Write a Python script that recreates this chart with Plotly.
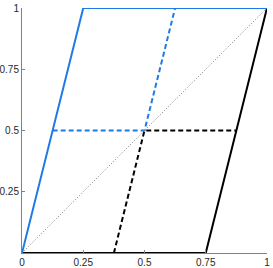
import plotly.graph_objects as go

# Series (x, y) values
blue_solid_x = [0, 0.25, 1]
blue_solid_y = [0, 1, 1]
blue_dash_x = [0.125, 0.5, 0.625]
blue_dash_y = [0.5, 0.5, 1]
black_dash_x = [0.375, 0.5, 0.875]
black_dash_y = [0, 0.5, 0.5]
black_solid_x = [0, 0.75, 1]
black_solid_y = [0, 0, 1]
diag_x = [0, 1]
diag_y = [0, 1]

x_ticks = [0, 0.25, 0.5, 0.75, 1]
x_labels = ["0", "0.25", "0.5", "0.75", "1"]
y_ticks = [0.25, 0.5, 0.75, 1]
y_labels = ["0.25", "0.5", "0.75", "1"]

BLUE = "rgb(30,122,230)"

fig = go.Figure()
fig.add_trace(go.Scatter(x=diag_x, y=diag_y, mode="lines",
                         line=dict(color="rgb(120,120,120)", width=1, dash="1px,2px")))
fig.add_trace(go.Scatter(x=black_solid_x, y=black_solid_y, mode="lines",
                         line=dict(color="black", width=2)))
fig.add_trace(go.Scatter(x=black_dash_x, y=black_dash_y, mode="lines",
                         line=dict(color="black", width=2, dash="5px,3px")))
fig.add_trace(go.Scatter(x=blue_dash_x, y=blue_dash_y, mode="lines",
                         line=dict(color=BLUE, width=2, dash="5px,3px")))
fig.add_trace(go.Scatter(x=blue_solid_x, y=blue_solid_y, mode="lines",
                         line=dict(color=BLUE, width=2)))

axis_common = dict(range=[0, 1], showgrid=False, zeroline=False, showline=True,
                   linecolor="rgb(130,130,130)", linewidth=1, ticks="inside",
                   ticklen=3, tickcolor="rgb(130,130,130)", automargin=False,
                   tickfont=dict(family="Liberation Sans, Arial", size=10, color="rgb(40,40,40)"))

fig.update_layout(
    width=273, height=268,
    margin=dict(l=22, r=6, t=8, b=15, pad=0),
    showlegend=False,
    plot_bgcolor="white", paper_bgcolor="white",
    xaxis=dict(tickvals=x_ticks, ticktext=x_labels, ticklabelstandoff=0, **axis_common),
    yaxis=dict(tickvals=y_ticks, ticktext=y_labels, ticklabelstandoff=0, **axis_common),
)
fig.write_html("out.html", config={"displayModeBar": False},
               post_script="document.body.style.margin='0';")
